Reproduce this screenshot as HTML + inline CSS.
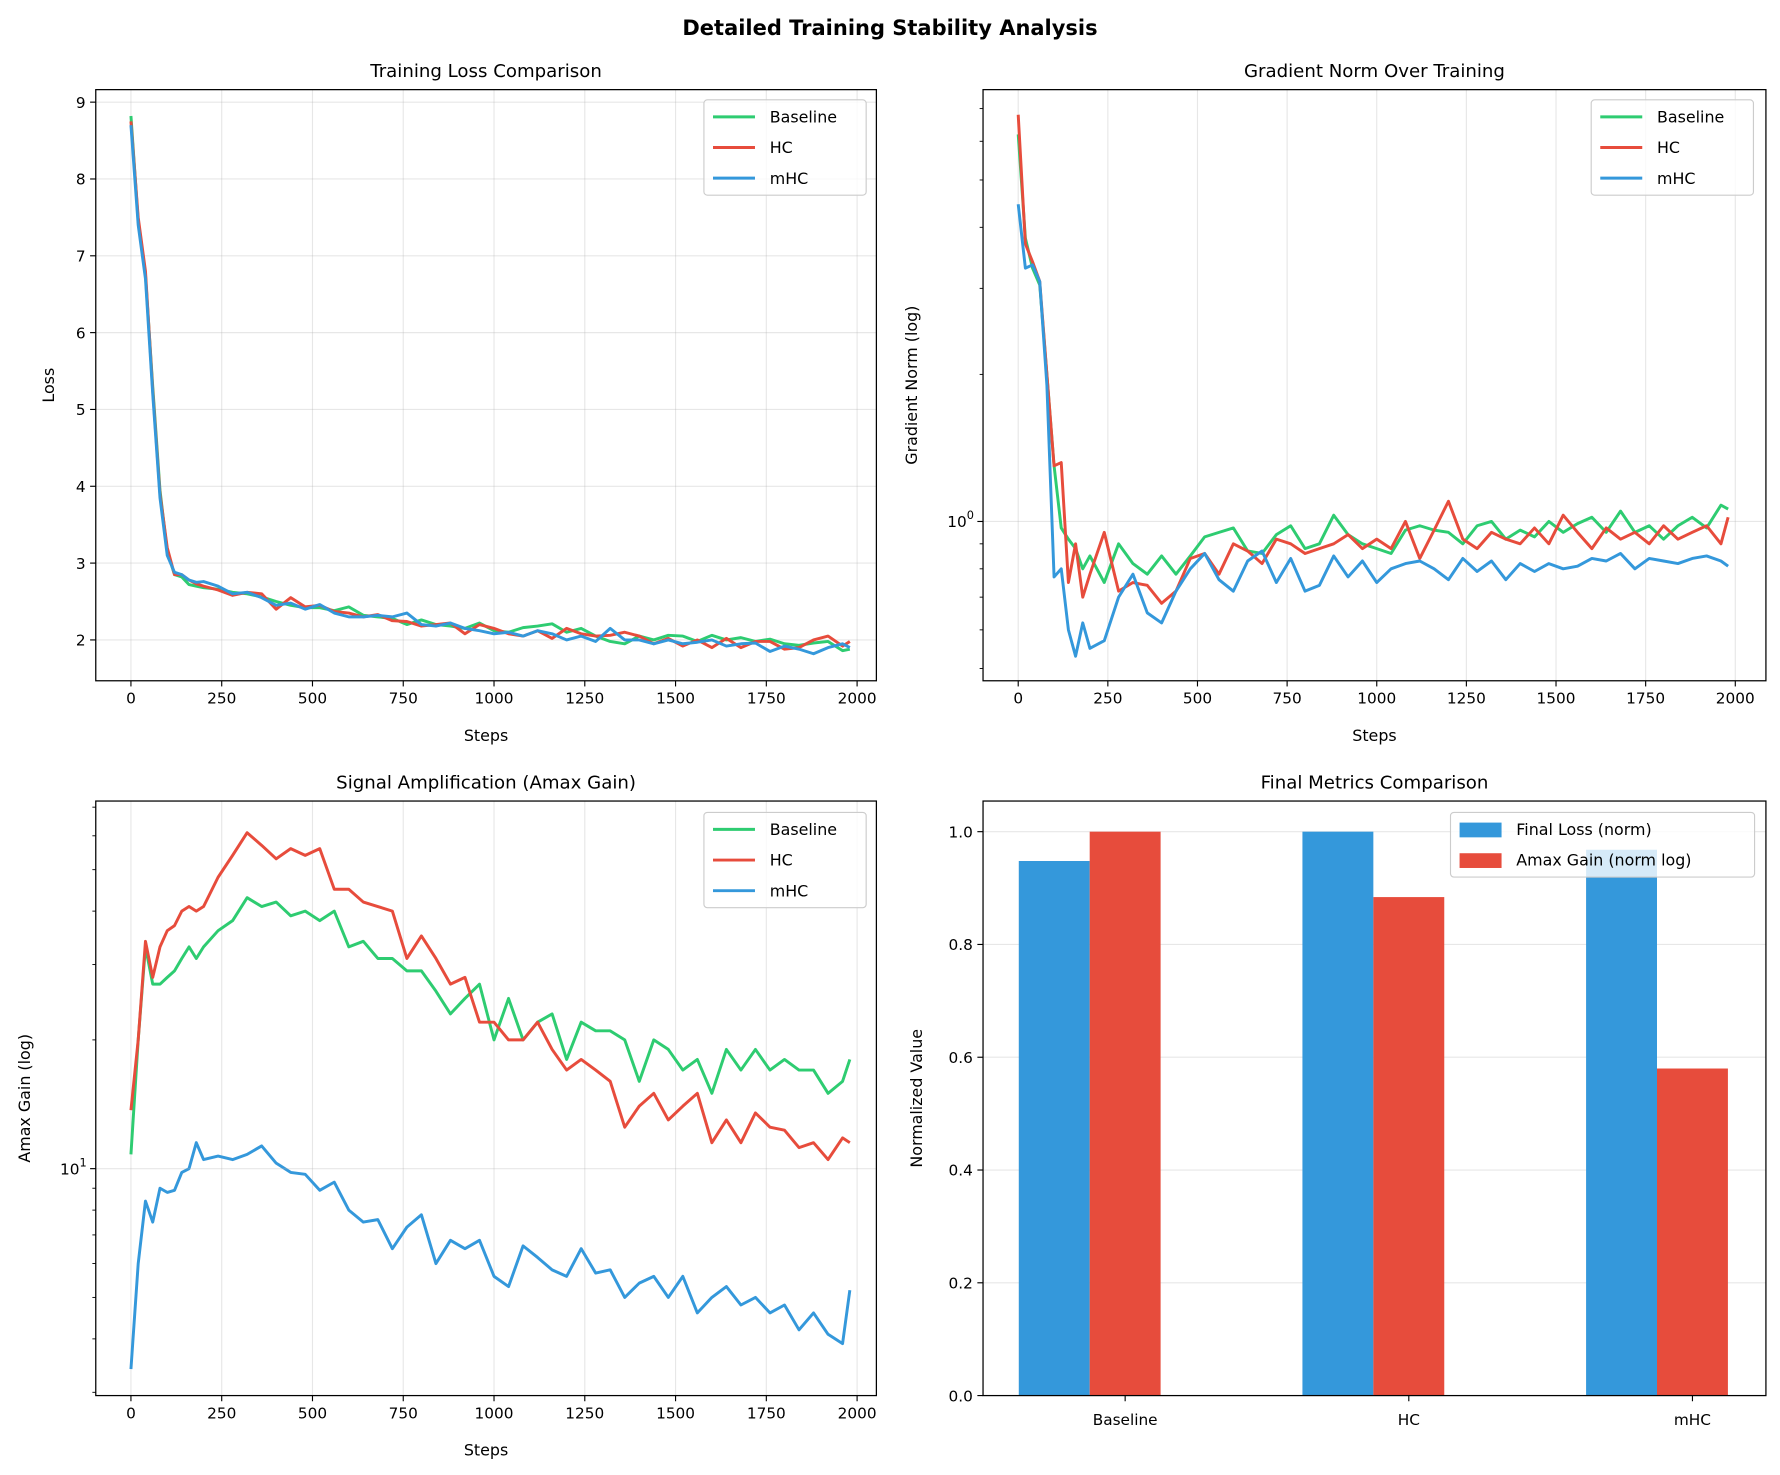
<!DOCTYPE html>
<html><head><meta charset="utf-8"><style>
html,body{margin:0;padding:0;background:#fff;}
svg{display:block;font-family:"DejaVu Sans","Liberation Sans",sans-serif;}
</style></head><body>
<svg id="fig" width="1780" height="1475" viewBox="0 0 1568 1300" xmlns="http://www.w3.org/2000/svg">
<rect width="1568" height="1300" fill="#fff"/>
<text x="784" y="31" text-anchor="middle" font-size="18.5" font-weight="bold">Detailed Training Stability Analysis</text>
</svg>
<script>
const steps=[0,20,40,60,80,100,120,140,160,180,200,240,280,320,360,400,440,480,520,560,600,640,680,720,760,800,840,880,920,960,1000,1040,1080,1120,1160,1200,1240,1280,1320,1360,1400,1440,1480,1520,1560,1600,1640,1680,1720,1760,1800,1840,1880,1920,1960,1980];
const lossBaseline=[8.82,7.45,6.75,5.3,3.95,3.15,2.85,2.82,2.72,2.7,2.68,2.66,2.62,2.6,2.56,2.5,2.45,2.42,2.42,2.38,2.43,2.32,2.3,2.28,2.2,2.26,2.2,2.18,2.15,2.22,2.12,2.1,2.16,2.18,2.21,2.1,2.15,2.05,1.98,1.95,2.05,2.0,2.06,2.05,1.98,2.06,2.0,2.03,1.98,2.01,1.95,1.93,1.96,1.98,1.86,1.88];
const lossHC=[8.75,7.5,6.8,5.25,3.9,3.2,2.85,2.85,2.78,2.73,2.7,2.65,2.58,2.62,2.6,2.4,2.55,2.43,2.45,2.37,2.35,2.3,2.33,2.25,2.24,2.18,2.2,2.22,2.08,2.2,2.15,2.08,2.05,2.12,2.02,2.15,2.08,2.05,2.06,2.1,2.05,1.95,2.02,1.92,2.0,1.9,2.02,1.9,1.98,1.98,1.88,1.9,2.0,2.05,1.92,1.98];
const lossMHC=[8.7,7.4,6.7,5.2,3.85,3.1,2.88,2.85,2.78,2.75,2.76,2.7,2.6,2.62,2.55,2.45,2.48,2.4,2.46,2.35,2.3,2.3,2.32,2.3,2.35,2.2,2.18,2.22,2.15,2.12,2.08,2.1,2.05,2.12,2.08,2.0,2.05,1.98,2.15,2.0,2.0,1.95,2.0,1.95,1.97,2.0,1.92,1.95,1.96,1.85,1.92,1.88,1.82,1.9,1.95,1.9];
const gradBaseline=[6.2,3.8,3.3,3.05,2.0,1.3,0.97,0.92,0.88,0.8,0.85,0.75,0.9,0.82,0.78,0.85,0.78,0.85,0.93,0.95,0.97,0.87,0.86,0.94,0.98,0.88,0.9,1.03,0.94,0.9,0.88,0.86,0.96,0.98,0.96,0.95,0.9,0.98,1.0,0.92,0.96,0.93,1.0,0.95,0.99,1.02,0.95,1.05,0.95,0.98,0.92,0.98,1.02,0.97,1.08,1.06];
const gradHC=[6.8,3.7,3.4,3.1,2.0,1.3,1.32,0.75,0.9,0.7,0.78,0.95,0.72,0.75,0.74,0.68,0.72,0.84,0.86,0.78,0.9,0.87,0.82,0.92,0.9,0.86,0.88,0.9,0.94,0.88,0.92,0.88,1.0,0.84,0.96,1.1,0.92,0.88,0.95,0.92,0.9,0.97,0.9,1.03,0.95,0.88,0.97,0.92,0.95,0.9,0.98,0.92,0.95,0.98,0.9,1.02];
const gradMHC=[4.46,3.3,3.35,3.1,1.9,0.77,0.8,0.6,0.53,0.62,0.55,0.57,0.7,0.78,0.65,0.62,0.72,0.8,0.86,0.76,0.72,0.83,0.87,0.75,0.84,0.72,0.74,0.85,0.77,0.83,0.75,0.8,0.82,0.83,0.8,0.76,0.84,0.79,0.83,0.76,0.82,0.79,0.82,0.8,0.81,0.84,0.83,0.86,0.8,0.84,0.83,0.82,0.84,0.85,0.83,0.81];
const amaxBaseline=[10.8,20,33,27,27,28,29,31,33,31,33,36,38,43,41,42,39,40,38,40,33,34,31,31,29,29,26,23,25,27,20,25,20,22,23,18,22,21,21,20,16,20,19,17,18,15,19,17,19,17,18,17,17,15,16,18];
const amaxHC=[13.7,20,34,28,33,36,37,40,41,40,41,48,54,61,57,53,56,54,56,45,45,42,41,40,31,35,31,27,28,22,22,20,20,22,19,17,18,17,16,12.5,14,15,13,14,15,11.5,13,11.5,13.5,12.5,12.3,11.2,11.5,10.5,11.8,11.5];
const amaxMHC=[3.4,6,8.4,7.5,9,8.8,8.9,9.8,10,11.5,10.5,10.7,10.5,10.8,11.3,10.3,9.8,9.7,8.9,9.3,8,7.5,7.6,6.5,7.3,7.8,6,6.8,6.5,6.8,5.6,5.3,6.6,6.2,5.8,5.6,6.5,5.7,5.8,5.0,5.4,5.6,5.0,5.6,4.6,5.0,5.3,4.8,5.0,4.6,4.8,4.2,4.6,4.1,3.9,5.2];
const barCategories=["Baseline","HC","mHC"];
const finalLossNorm=[0.948,1.0,0.968];
const amaxGainNorm=[1.0,0.884,0.58];
const xTicks=[0,250,500,750,1000,1250,1500,1750,2000];
const lossTicks=[2,3,4,5,6,7,8,9];
const barYTicks=[0,0.2,0.4,0.6,0.8,1.0];

const NS="http://www.w3.org/2000/svg";
const svg=document.getElementById('fig');
function mk(tag,attrs,parent,txt){const e=document.createElementNS(NS,tag);for(const k in attrs)e.setAttribute(k,attrs[k]);if(txt!==undefined)e.textContent=txt;(parent||svg).appendChild(e);return e;}
const GREEN="#2ecc71",RED="#e74c3c",BLUE="#3498db";

function makePanel(name,L,T,R,B,title,xlab,ylab){
  const g=mk('g',{});
  
  
  const t=mk('text',{x:(L+R)/2,y:T-11,'text-anchor':'middle','font-size':16},g,title);
  
  
  if(xlab){const xl=mk('text',{x:(L+R)/2,y:B+53,'text-anchor':'middle','font-size':14},g,xlab);
  
  }
  const yl=mk('text',{x:0,y:0,'text-anchor':'middle','font-size':14,transform:`translate(${ylab.x},${(T+B)/2}) rotate(-90)`},g,ylab.t);
  
  
  return g;
}
function frame(g,L,T,R,B){mk('rect',{x:L,y:T,width:R-L,height:B-T,fill:'none',stroke:'#000','stroke-width':1.1},g);}
function xAxis(g,L,T,R,B,sx){
  xTicks.forEach(v=>{const x=sx(v);
    mk('line',{x1:x,x2:x,y1:T,y2:B,stroke:'#b0b0b0','stroke-opacity':0.3,'stroke-width':1},g);
    mk('line',{x1:x,x2:x,y1:B,y2:B+5,stroke:'#000'},g);
    const t=mk('text',{x:x,y:B+20,'text-anchor':'middle','font-size':13.5},g,String(v));
    
    
  });
}
function drawLine(g,xs,ys,sx,sy,color,name){
  const d=xs.map((s,i)=>(i?'L':'M')+sx(s).toFixed(2)+','+sy(ys[i]).toFixed(2)).join(' ');
  const p=mk('path',{d:d,fill:'none',stroke:color,'stroke-width':2.6,'stroke-linejoin':'round'},g);
  
  
}
function lineLegend(g,x,y){
  const box=mk('rect',{x:x,y:y,width:143,height:84,fill:'#fff','fill-opacity':0.8,stroke:'#ccc',rx:3},g);
  
  
  [["Baseline",GREEN],["HC",RED],["mHC",BLUE]].forEach((e,i)=>{
    const yy=y+15+i*27;
    mk('line',{x1:x+8,x2:x+45,y1:yy,y2:yy,stroke:e[1],'stroke-width':2.6},g);
    const t=mk('text',{x:x+58,y:yy+5,'font-size':14},g,e[0]);
    
    
  });
}
function logTicks(g,L,T,B,sy,lo,hi,majorExp){
  for(let e=Math.floor(Math.log10(lo));e<=Math.ceil(Math.log10(hi));e++){
    for(let m=1;m<10;m++){const v=m*Math.pow(10,e);
      if(v<lo||v>hi)continue;const y=sy(v);
      if(m===1){mk('line',{x1:L,x2:L-5,y1:y,y2:y,stroke:'#000'},g);
        mk('line',{x1:L,x2:L+10000,y1:y,y2:y,stroke:'#b0b0b0','stroke-opacity':0.3},g);
        const t=mk('text',{x:L-8,y:y+5,'text-anchor':'end','font-size':13.5},g,'10');
        
        
        mk('tspan',{dy:-7,'font-size':10},t,String(e));
      } else mk('line',{x1:L,x2:L-3,y1:y,y2:y,stroke:'#000','stroke-width':0.8},g);
    }
  }
}

// Panel 1: loss
(function(){
  const L=84,T=79,R=772,B=600;
  const g=makePanel('loss-panel',L,T,R,B,'Training Loss Comparison','Steps',{x:47,t:'Loss'});
  const sx=v=>115+v*(640/2000), sy=v=>564-(v-2)*67.71;
  xAxis(g,L,T,R,B,sx);
  lossTicks.forEach(v=>{const y=sy(v);
    mk('line',{x1:L,x2:R,y1:y,y2:y,stroke:'#b0b0b0','stroke-opacity':0.3},g);
    mk('line',{x1:L,x2:L-5,y1:y,y2:y,stroke:'#000'},g);
    const t=mk('text',{x:L-9,y:y+5,'text-anchor':'end','font-size':13.5},g,String(v));
    
    });
  drawLine(g,steps,lossBaseline,sx,sy,GREEN,'loss-baseline-line');
  drawLine(g,steps,lossHC,sx,sy,RED,'loss-hc-line');
  drawLine(g,steps,lossMHC,sx,sy,BLUE,'loss-mhc-line');
  frame(g,L,T,R,B);lineLegend(g,620,88);
})();
// Panel 2: grad norm
(function(){
  const L=866,T=79,R=1556,B=600;
  const g=makePanel('grad-panel',L,T,R,B,'Gradient Norm Over Training','Steps',{x:808,t:'Gradient Norm (log)'});
  const sx=v=>897+v*(632/2000), sy=v=>459.6-430.6*Math.log10(v);
  xAxis(g,L,T,R,B,sx);
  const cp=mk('clipPath',{id:'c2'},svg);mk('rect',{x:L,y:T,width:R-L,height:B-T},cp);
  const gl=mk('g',{'clip-path':'url(#c2)'},g);
  logTicks(gl,L,T,B,sy,0.473,7.66);
  [2,3,4,5,6,7,0.9,0.8,0.7,0.6,0.5].forEach(v=>mk('line',{x1:L,x2:L-3,y1:sy(v),y2:sy(v),stroke:'#000','stroke-width':0.8},g));
  mk('line',{x1:L,x2:L-5,y1:sy(1),y2:sy(1),stroke:'#000'},g);
  const t=mk('text',{x:L-8,y:sy(1)+5,'text-anchor':'end','font-size':13.5},g,'10');
  
  
  mk('tspan',{dy:-7,'font-size':10},t,'0');
  drawLine(gl,steps,gradBaseline,sx,sy,GREEN,'grad-baseline-line');
  drawLine(gl,steps,gradHC,sx,sy,RED,'grad-hc-line');
  drawLine(gl,steps,gradMHC,sx,sy,BLUE,'grad-mhc-line');
  frame(g,L,T,R,B);lineLegend(g,1402,88);
})();
// Panel 3: amax
(function(){
  const L=84,T=706,R=772,B=1230;
  const g=makePanel('amax-panel',L,T,R,B,'Signal Amplification (Amax Gain)','Steps',{x:26,t:'Amax Gain (log)'});
  const sx=v=>115+v*(640/2000), sy=v=>1030-377*Math.log10(v/10);
  xAxis(g,L,T,R,B,sx);
  const cp=mk('clipPath',{id:'c3'},svg);mk('rect',{x:L,y:T,width:R-L,height:B-T},cp);
  const gl=mk('g',{'clip-path':'url(#c3)'},g);
  mk('line',{x1:L,x2:R,y1:sy(10),y2:sy(10),stroke:'#b0b0b0','stroke-opacity':0.3},g);
  [3,4,5,6,7,8,9,20,30,40,50,60,70].forEach(v=>mk('line',{x1:L,x2:L-3,y1:sy(v),y2:sy(v),stroke:'#000','stroke-width':0.8},g));
  mk('line',{x1:L,x2:L-5,y1:sy(10),y2:sy(10),stroke:'#000'},g);
  const t=mk('text',{x:L-8,y:sy(10)+5,'text-anchor':'end','font-size':13.5},g,'10');
  
  
  mk('tspan',{dy:-7,'font-size':10},t,'1');
  drawLine(gl,steps,amaxBaseline,sx,sy,GREEN,'amax-baseline-line');
  drawLine(gl,steps,amaxHC,sx,sy,RED,'amax-hc-line');
  drawLine(gl,steps,amaxMHC,sx,sy,BLUE,'amax-mhc-line');
  frame(g,L,T,R,B);lineLegend(g,620,716);
})();
// Panel 4: bars
(function(){
  const L=866,T=706,R=1556,B=1230;
  const g=makePanel('metrics-panel',L,T,R,B,'Final Metrics Comparison',null,{x:812,t:'Normalized Value'});
  const sx=v=>960+v*250, sy=v=>1230-v*497;
  barYTicks.forEach(v=>{const y=sy(v);
    mk('line',{x1:L,x2:R,y1:y,y2:y,stroke:'#b0b0b0','stroke-opacity':0.3},g);
    mk('line',{x1:L,x2:L-5,y1:y,y2:y,stroke:'#000'},g);
    const t=mk('text',{x:L-9,y:y+5,'text-anchor':'end','font-size':13.5},g,v.toFixed(1));
    
    });
  const w=0.25;
  barCategories.forEach((c,i)=>{
    const b1=mk('rect',{x:sx(i-w),y:sy(finalLossNorm[i]),width:sx(i)-sx(i-w),height:sy(0)-sy(finalLossNorm[i]),fill:BLUE},g);
    
    
    const b2=mk('rect',{x:sx(i),y:sy(amaxGainNorm[i]),width:sx(i+w)-sx(i),height:sy(0)-sy(amaxGainNorm[i]),fill:RED},g);
    
    
    const x=sx(i+w/2);
    mk('line',{x1:x,x2:x,y1:B,y2:B+5,stroke:'#000'},g);
    const t=mk('text',{x:x,y:B+26,'text-anchor':'middle','font-size':13.5},g,c);
    
    
  });
  frame(g,L,T,R,B);
  const box=mk('rect',{x:1278,y:716,width:268,height:57,fill:'#fff','fill-opacity':0.8,stroke:'#ccc',rx:3},g);
  
  
  [["Final Loss (norm)",BLUE],["Amax Gain (norm log)",RED]].forEach((e,i)=>{
    const yy=731+i*27;
    mk('rect',{x:1286,y:yy-6,width:37,height:13,fill:e[1]},g);
    const t=mk('text',{x:1336,y:yy+5,'font-size':14},g,e[0]);
    
    
  });
})();
</script>
</body></html>
